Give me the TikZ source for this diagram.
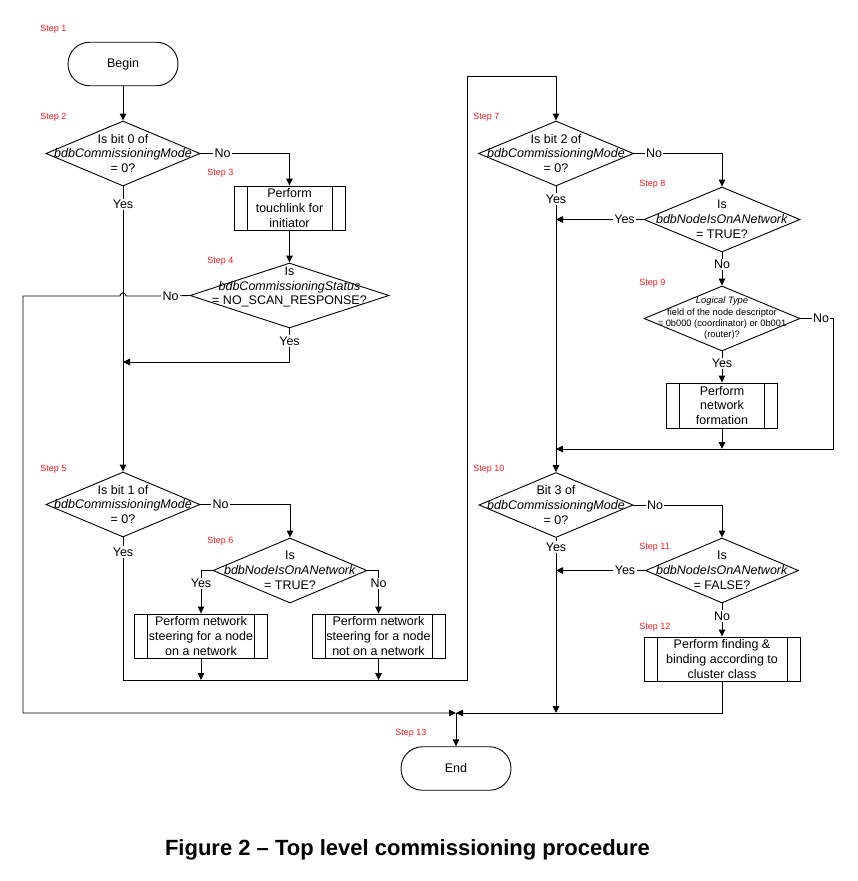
\documentclass[tikz,border=0pt]{standalone}
\usepackage{fontspec}
\setmainfont{Liberation Sans}
\usetikzlibrary{shapes.geometric,arrows.meta,calc}
\definecolor{stepred}{RGB}{235,30,35}
\begin{document}
\begin{tikzpicture}[x=1pt,y=1pt,line width=0.9pt,
  font=\fontsize{12.5}{14.8}\selectfont,
  arr/.style={-{Triangle[length=7pt,width=6.5pt]}},
  dec/.style={diamond,draw,inner sep=0pt,minimum width=#1,minimum height=65pt},
  dtext/.style={align=center,inner sep=0pt},
  smalltext/.style={align=center,inner sep=0pt,font=\fontsize{9.3}{11.3}\selectfont},
  proc/.style={rectangle,draw,minimum width=#1,minimum height=44pt,align=center,inner sep=0pt,
    path picture={\draw ([xshift=13pt]path picture bounding box.north west) -- ([xshift=13pt]path picture bounding box.south west);
                  \draw ([xshift=-13pt]path picture bounding box.north east) -- ([xshift=-13pt]path picture bounding box.south east);}},
  term/.style={rectangle,draw,rounded corners=21.5pt,minimum width=110pt,minimum height=43.5pt},
  lbl/.style={inner sep=1pt},
  steplbl/.style={anchor=west,inner sep=0pt,text=stepred,font=\fontsize{9}{10}\selectfont}]
\useasboundingbox (0,0) rectangle (857,-881);

% step labels
\node[steplbl] (s1) at (40,-29) {Step 1};
\node[steplbl] (s2) at (40,-117) {Step 2};
\node[steplbl] (s3) at (207,-173) {Step 3};
\node[steplbl] (s4) at (207,-261) {Step 4};
\node[steplbl] (s5) at (40,-469) {Step 5};
\node[steplbl] (s6) at (207,-541) {Step 6};
\node[steplbl] (s7) at (473,-117) {Step 7};
\node[steplbl] (s8) at (639,-184) {Step 8};
\node[steplbl] (s9) at (639,-283) {Step 9};
\node[steplbl] (s10) at (473,-469) {Step 10};
\node[steplbl] (s11) at (639,-547) {Step 11};
\node[steplbl] (s12) at (639,-627) {Step 12};
\node[steplbl] (s13) at (395,-733) {Step 13};

% shapes
\node[term] (begin) at (123,-64) {Begin};
\node[dec=154] (d1) at (123,-153.5) {};
\node[dtext] (d1t) at (d1) {Is bit 0 of\\\textit{bdbCommissioningMode}\\= 0?};
\node[proc=111] (p3) at (289.5,-208) {Perform\\touchlink for\\initiator};
\node[dec=199] (d4) at (289.5,-295.5) {};
\node[dtext] (d4t) at (289.5,-287) {Is\\\textit{bdbCommissioningStatus}\\= NO\_SCAN\_RESPONSE?};
\node[dec=154] (d5) at (123,-504.5) {};
\node[dtext] (d5t) at (d5) {Is bit 1 of\\\textit{bdbCommissioningMode}\\= 0?};
\node[dec=154] (d6) at (290,-570.5) {};
\node[dtext] (d6t) at (d6) {Is\\\textit{bdbNodeIsOnANetwork}\\= TRUE?};
\node[proc=133] (p6y) at (201,-636) {Perform network\\steering for a node\\on a network};
\node[proc=133] (p6n) at (378.5,-636) {Perform network\\steering for a node\\not on a network};

\node[dec=155] (d7) at (556,-153.5) {};
\node[dtext] (d7t) at (d7) {Is bit 2 of\\\textit{bdbCommissioningMode}\\= 0?};
\node[dec=156] (d8) at (722,-219.5) {};
\node[dtext] (d8t) at (d8) {Is\\\textit{bdbNodeIsOnANetwork}\\= TRUE?};
\node[dec=156] (d9) at (722,-318.5) {};
\node[smalltext] (d9t) at (d9) {\textit{Logical Type}\\field of the node descriptor\\= 0b000 (coordinator) or 0b001\\(router)?};
\node[proc=111,minimum height=45pt] (p9) at (722,-405.5) {Perform\\network\\formation};
\node[dec=154] (d10) at (556,-505) {};
\node[dtext] (d10t) at (d10) {Bit 3 of\\\textit{bdbCommissioningMode}\\= 0?};
\node[dec=153] (d11) at (722,-570.5) {};
\node[dtext] (d11t) at (d11) {Is\\\textit{bdbNodeIsOnANetwork}\\= FALSE?};
\node[proc=156] (p12) at (722,-659) {Perform finding \&\\binding according to\\cluster class};
\node[term] (endn) at (456,-768.5) {End};

% branch labels
\node[lbl] (no1) at (222.5,-153.5) {No};
\node[lbl] (yes1) at (123,-204.5) {Yes};
\node[lbl] (no4) at (170.5,-296) {No};
\node[lbl] (yes4) at (289.5,-341) {Yes};
\node[lbl] (no5) at (220.5,-504.5) {No};
\node[lbl] (yes5) at (123,-552) {Yes};
\node[lbl] (yes6) at (201,-583.5) {Yes};
\node[lbl] (no6) at (378.5,-583.5) {No};
\node[lbl] (no7) at (654,-153.5) {No};
\node[lbl] (yes7) at (556,-199) {Yes};
\node[lbl] (yes8) at (624.5,-219.5) {Yes};
\node[lbl] (no8) at (722,-264.5) {No};
\node[lbl] (no9) at (821,-318.5) {No};
\node[lbl] (yes9) at (722,-363.5) {Yes};
\node[lbl] (no10) at (655,-505) {No};
\node[lbl] (yes10) at (556,-547) {Yes};
\node[lbl] (yes11) at (625,-570.5) {Yes};
\node[lbl] (no11) at (722,-616) {No};

% helper coordinates
\coordinate (j4) at (123,-362);
\coordinate (lc) at (23,-296);
\coordinate (mg) at (456,-713);
\coordinate (r1) at (467,-680);
\coordinate (t7) at (556,-76);
\coordinate (c9) at (833,-449);
\coordinate (m9) at (556,-449);

% connectors, left column
\draw[arr] (begin) -- (d1);
\draw[arr] (d1.east) -- (no1) -| (p3.north);
\draw[arr] (p3) -- (d4);
\draw[arr] (d1.south) -- (yes1) -- (d5.north);
\draw[arr] (d4.south) -- (yes4) |- (j4);
\draw (d4.west) -- (no4);
\draw[arr] (no4) -- ($(yes1 |- no4)+(3,0)$) arc[start angle=0,end angle=180,radius=3] -- (lc) |- (mg);
\draw[arr] (d5.east) -- (no5) -| (d6.north);
\draw (d6.west) -| (yes6);
\draw[arr] (yes6) -- (yes6 |- p6y.north);
\draw (d6.east) -| (no6);
\draw[arr] (no6) -- (no6 |- p6n.north);
\draw[arr] (d5.south) -- (yes5) |- (r1) |- (t7) -- (d7.north);
\draw[arr] (p6y.south) -- (p6y.south |- r1);
\draw[arr] (p6n.south) -- (p6n.south |- r1);

% connectors, right column
\draw[arr] (d7.east) -- (no7) -| (d8.north);
\draw[arr] (d7.south) -- (yes7) -- (d10.north);
\draw[arr] (d8.west) -- (yes8) -- (yes8 -| d7.south);
\draw[arr] (d8.south) -- (no8) -- (d9.north);
\draw[arr] (d9.south) -- (yes9) -- (p9.north);
\draw[arr] (d9.east) -- (no9) -| (c9) -- (m9);
\draw[arr] (p9.south) -- (p9.south |- m9);
\draw[arr] (d10.east) -- (no10) -| (d11.north);
\draw[arr] (d10.south) -- (yes10) -- (yes10 |- mg);
\draw[arr] (d11.west) -- (yes11) -- (yes11 -| d10.south);
\draw[arr] (d11.south) -- (no11) -- (p12.north);
\draw[arr] (p12.south) |- (mg);
\draw[arr] (mg) -- (endn.north);

% caption
\node[anchor=base,inner sep=0pt,font=\bfseries\fontsize{22}{26}\selectfont] (cap) at (407.5,-855) {Figure 2 – Top level commissioning procedure};
\end{tikzpicture}
\end{document}
